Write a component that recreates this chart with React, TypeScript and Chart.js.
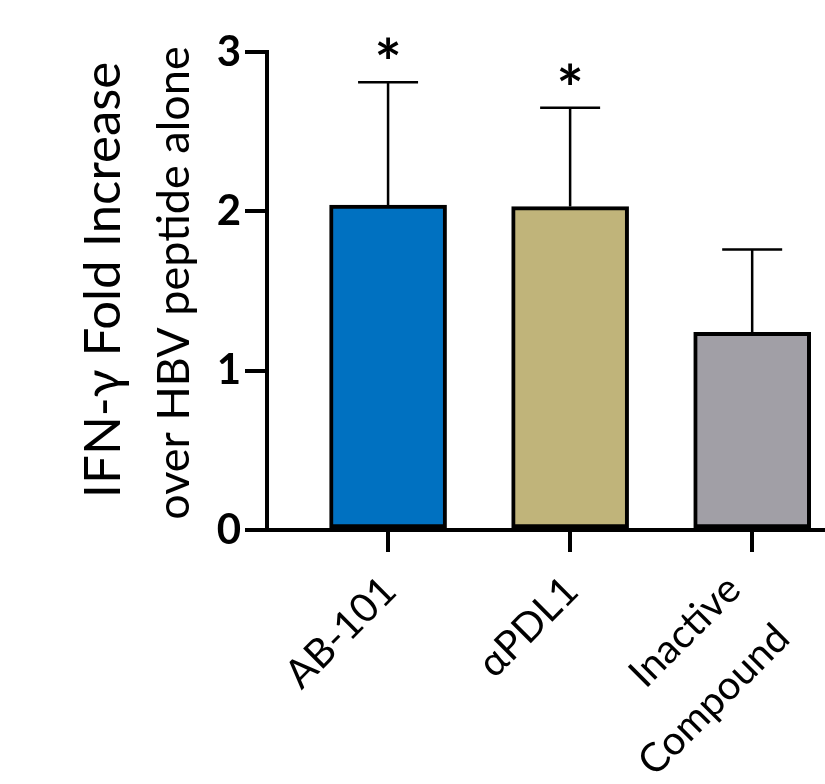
import React, { useEffect, useRef } from "react";
import { Chart, registerables } from "chart.js";

Chart.register(...registerables);

// ---- data ----
const categories: string[][] = [["AB-101"], ["αPDL1"], ["Inactive", "Compound"]];
const positions = [1, 2, 3];
const means = [2.04, 2.03, 1.24];
const errUpper = [2.81, 2.65, 1.76];
const significance = ["*", "*", ""];
const barColors = ["#0071C1", "#C0B47A", "#A19FA6"];
const yTickValues = [0, 1, 2, 3];
const yTitleMain = "IFN-γ Fold Increase";
const yTitleSub = "over HBV peptide alone";

const FONT = "Lato, 'Open Sans', sans-serif";
const TICK_LEN = 22;

const overlayPlugin = {
  id: "overlay",
  afterDatasetsDraw(chart: any) {
    const ctx = chart.ctx;
    const xs = chart.scales.x;
    const ys = chart.scales.y;
    ctx.save();
    ctx.strokeStyle = "#000";
    ctx.fillStyle = "#000";
    ctx.lineWidth = 2.5;
    positions.forEach((p, i) => {
      const cx = xs.getPixelForValue(p);
      const yTop = ys.getPixelForValue(errUpper[i]);
      const yBar = ys.getPixelForValue(means[i]);
      ctx.beginPath();
      ctx.moveTo(cx, yBar);
      ctx.lineTo(cx, yTop);
      ctx.moveTo(cx - 30, yTop);
      ctx.lineTo(cx + 30, yTop);
      ctx.stroke();
      if (significance[i]) {
        ctx.font = `bold 64px ${FONT}`;
        ctx.textAlign = "center";
        ctx.textBaseline = "alphabetic";
        ctx.fillText(significance[i], cx, yTop + 4);
      }
    });
    ctx.restore();
  },
  afterDraw(chart: any) {
    const ctx = chart.ctx;
    const xs = chart.scales.x;
    const ys = chart.scales.y;
    // rotated category labels
    const axisY = ys.getPixelForValue(0) + TICK_LEN + 1;
    positions.forEach((p, i) => {
      const lines = categories[i];
      const n = lines.length;
      const sOff = n > 1 ? -34 : -21;
      const tOff = n > 1 ? 21 : 36;
      ctx.save();
      ctx.translate(xs.getPixelForValue(p), axisY);
      ctx.rotate(-Math.PI / 4);
      ctx.fillStyle = "#000";
      ctx.font = `40px ${FONT}`;
      ctx.textAlign = "right";
      ctx.textBaseline = "alphabetic";
      lines.forEach((line, k) => {
        ctx.fillText(line, sOff, tOff + k * 69);
      });
      ctx.restore();
    });
    // y-axis titles
    ctx.save();
    ctx.fillStyle = "#000";
    ctx.textAlign = "center";
    ctx.textBaseline = "middle";
    ctx.translate(104, 280);
    ctx.rotate(-Math.PI / 2);
    ctx.font = `51px ${FONT}`;
    ctx.fillText(yTitleMain, 0, 0);
    ctx.restore();
    ctx.save();
    ctx.fillStyle = "#000";
    ctx.textAlign = "center";
    ctx.textBaseline = "middle";
    ctx.translate(174, 283);
    ctx.rotate(-Math.PI / 2);
    ctx.font = `45px ${FONT}`;
    ctx.fillText(yTitleSub, 0, 0);
    ctx.restore();
  },
};

export default function App() {
  const ref = useRef<HTMLCanvasElement | null>(null);
  useEffect(() => {
    if (!ref.current) return;
    const chart = new Chart(ref.current, {
      type: "bar",
      data: {
        datasets: [
          {
            data: positions.map((p, i) => ({ x: p, y: means[i] })),
            backgroundColor: barColors,
            borderColor: "#000",
            borderWidth: 4,
            borderSkipped: false,
            barThickness: 117,
          },
        ],
      },
      options: {
        responsive: false,
        animation: false,
        devicePixelRatio: 1,
        layout: { padding: { top: 52, right: 0, left: 0, bottom: 0 } },
        plugins: { legend: { display: false }, tooltip: { enabled: false } },
        scales: {
          x: {
            type: "linear",
            offset: false,
            min: 0.335,
            max: 3.4,
            afterBuildTicks: (scale: any) => {
              scale.ticks = positions.map((v) => ({ value: v }));
            },
            afterFit: (scale: any) => {
              scale.height = 254;
              scale.paddingLeft = 0;
              scale.paddingRight = 0;
            },
            grid: {
              display: true,
              offset: false,
              drawOnChartArea: false,
              drawTicks: true,
              tickLength: TICK_LEN,
              tickWidth: 4,
              lineWidth: 4,
              color: "#000",
              tickColor: "#000",
            },
            border: { display: true, width: 4, color: "#000" },
            ticks: { display: false, autoSkip: false },
          },
          y: {
            min: 0,
            max: 3,
            afterBuildTicks: (scale: any) => {
              scale.ticks = yTickValues.map((v) => ({ value: v }));
            },
            afterFit: (scale: any) => {
              scale.width = 267;
              scale.paddingTop = 0;
              scale.paddingBottom = 0;
            },
            grid: {
              display: true,
              drawOnChartArea: false,
              drawTicks: true,
              tickLength: TICK_LEN,
              tickWidth: 4,
              lineWidth: 4,
              color: "#000",
              tickColor: "#000",
            },
            border: { display: true, width: 4, color: "#000" },
            ticks: {
              padding: 4,
              color: "#000",
              font: { family: FONT, size: 42, weight: "bold" },
            },
          },
        },
      },
      plugins: [overlayPlugin],
    } as any);
    return () => chart.destroy();
  }, []);
  return (
    <div style={{ position: "absolute", left: 0, top: 0, width: 825, height: 784, background: "#fff" }}>
      <canvas ref={ref} width={825} height={784} style={{ width: 825, height: 784, display: "block" }} />
    </div>
  );
}
